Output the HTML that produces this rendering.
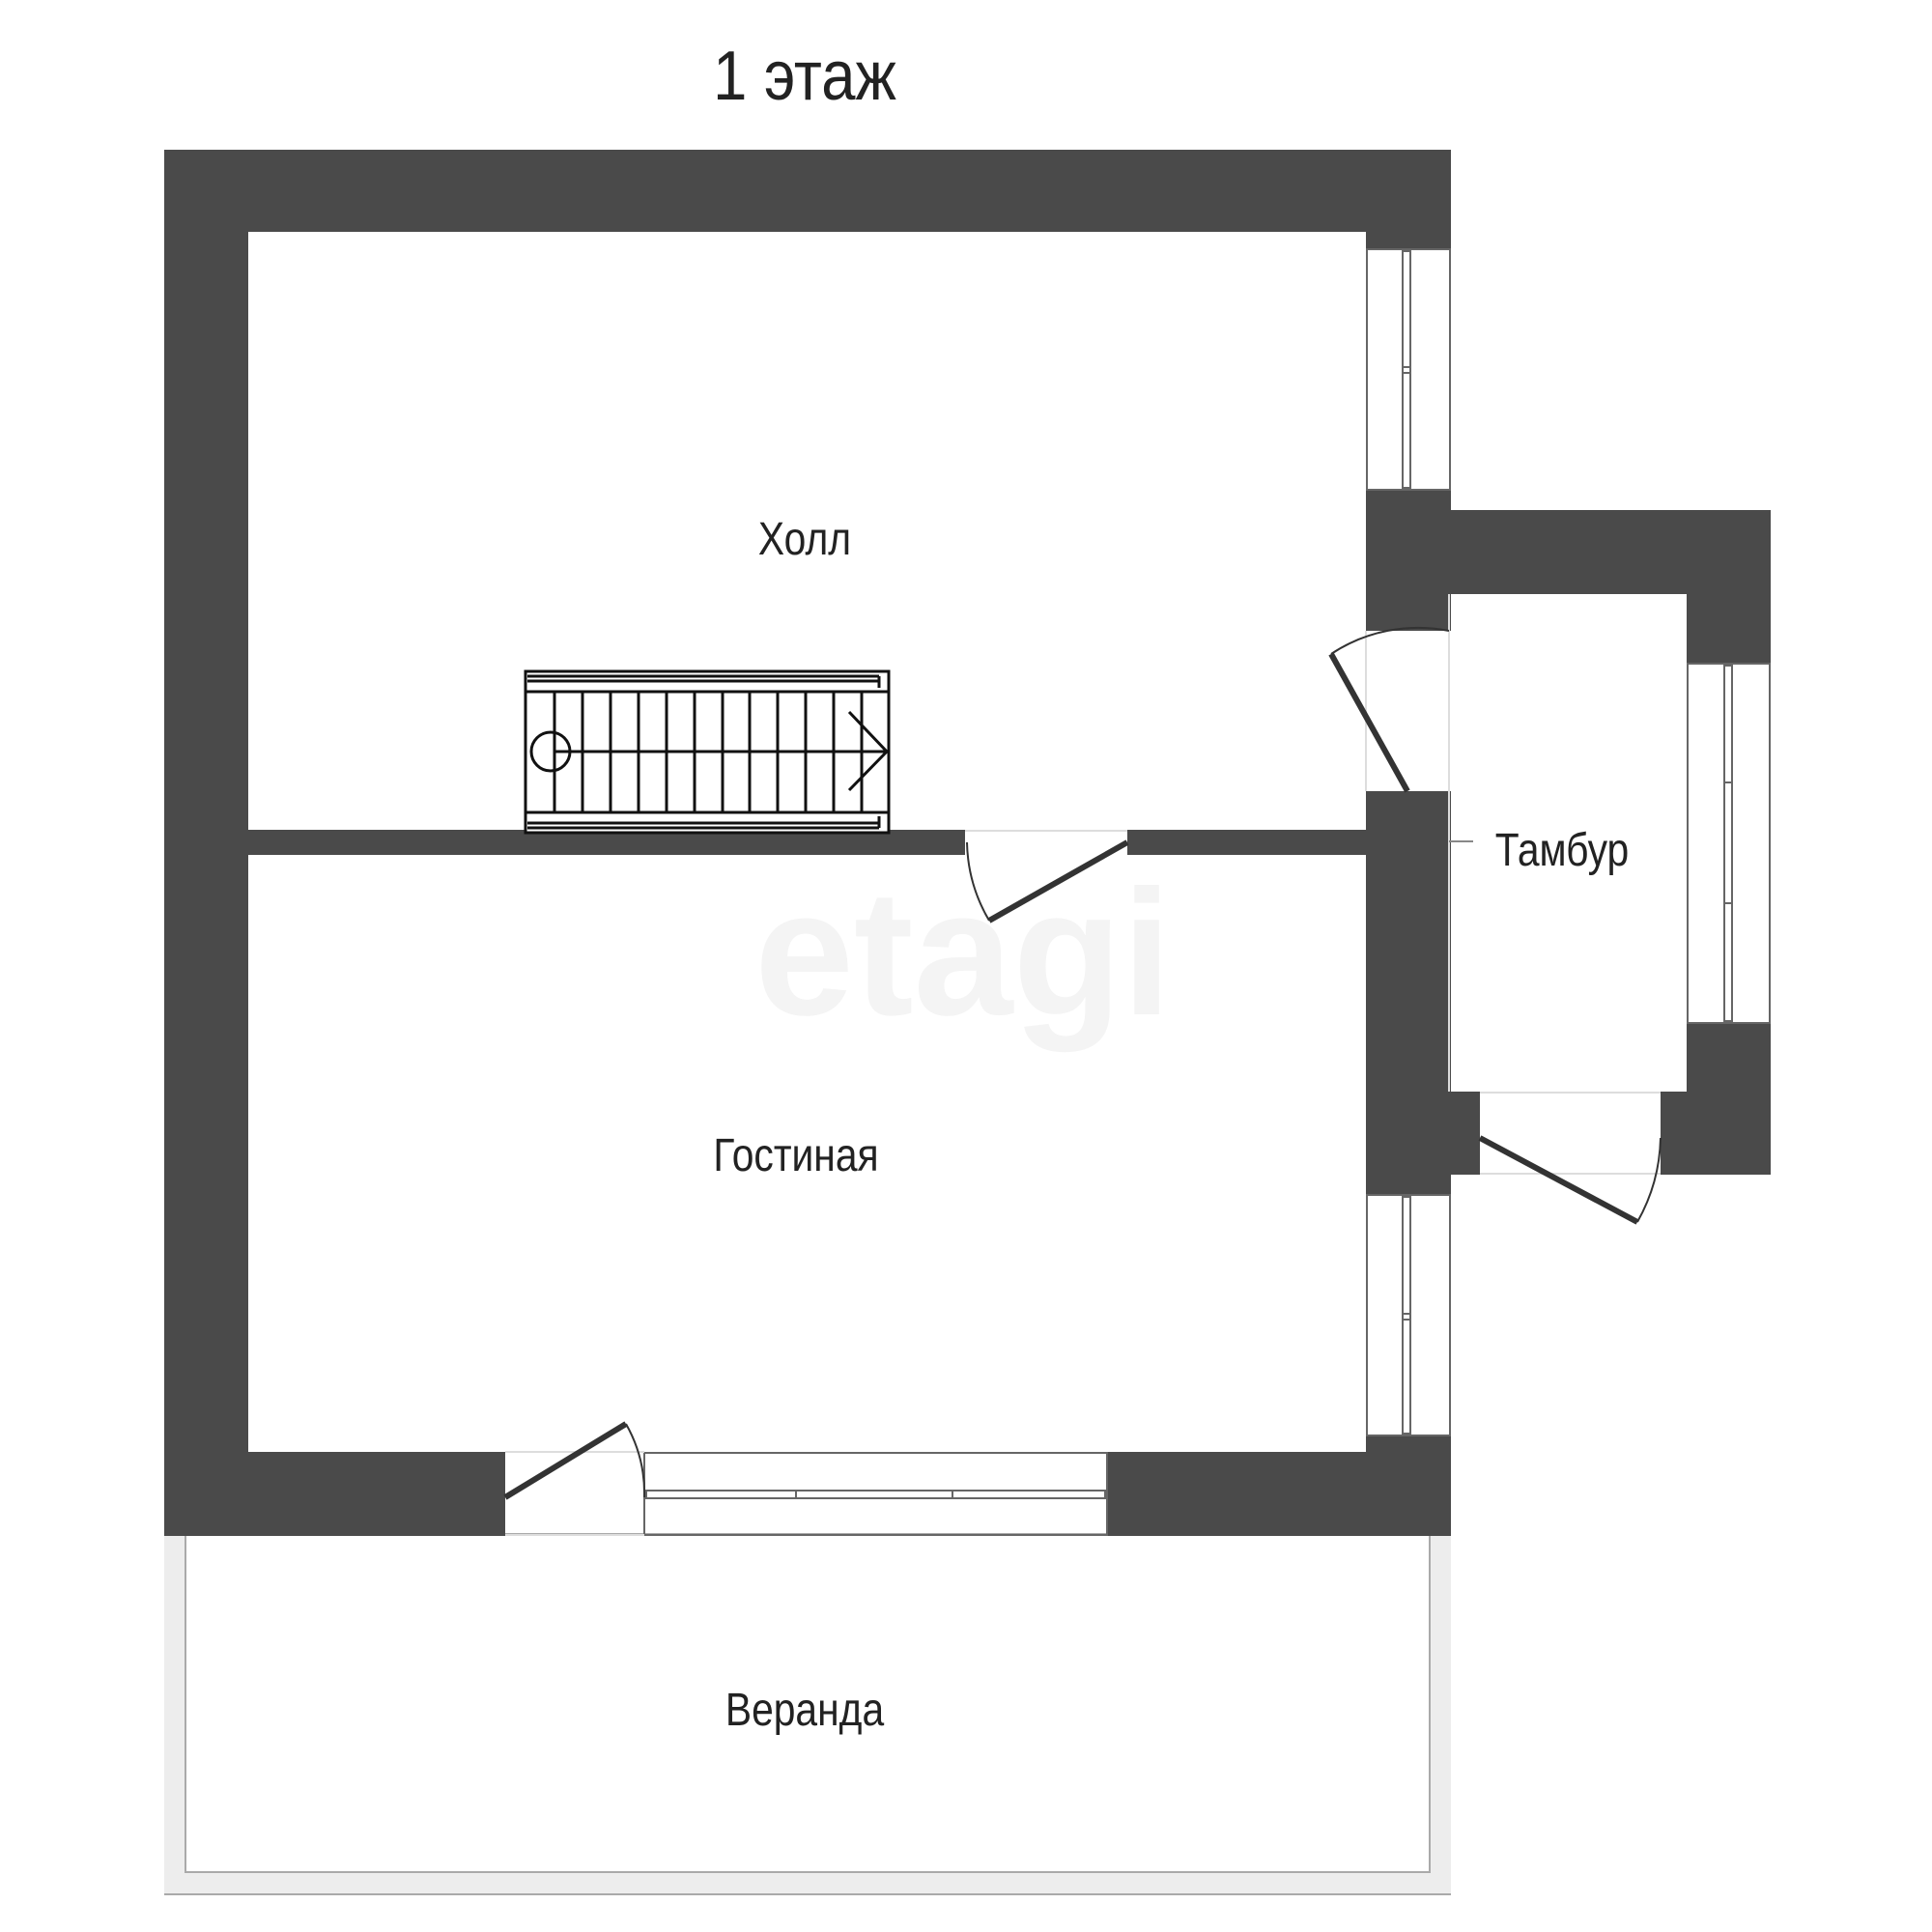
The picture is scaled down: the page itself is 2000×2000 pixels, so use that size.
<!DOCTYPE html>
<html><head><meta charset="utf-8"><style>
html,body{margin:0;padding:0;background:#fff;}
svg{display:block;}
text{font-family:"Liberation Sans",sans-serif;fill:#222;}
</style></head><body>
<svg width="2000" height="2000" viewBox="0 0 2000 2000" xmlns="http://www.w3.org/2000/svg">
<rect width="2000" height="2000" fill="#fff"/>
<!-- watermark -->
<text x="997" y="1050" font-size="185" font-weight="bold" text-anchor="middle" style="fill:#f4f4f4">etagi</text>

<!-- veranda -->
<rect x="170" y="1588" width="1332" height="374" fill="#ededed"/>
<rect x="192" y="1588" width="1288" height="350" fill="#fff" stroke="#aaa" stroke-width="2"/>
<line x1="170" y1="1961" x2="1502" y2="1961" stroke="#aaa" stroke-width="2"/>

<g fill="#4a4a4a">
<rect x="170" y="155" width="1332" height="85"/>
<rect x="170" y="155" width="87" height="1435"/>
<rect x="170" y="1503" width="353" height="87"/>
<rect x="1146" y="1503" width="356" height="87"/>
<rect x="1414" y="155" width="88" height="103"/>
<rect x="1414" y="507" width="88" height="146"/>
<rect x="1414" y="819" width="88" height="418"/>
<rect x="1414" y="1486" width="88" height="104"/>
<rect x="257" y="859" width="742" height="26"/>
<rect x="1167" y="859" width="249" height="26"/>
<rect x="1500" y="528" width="333" height="87"/>
<rect x="1746" y="528" width="87" height="159"/>
<rect x="1746" y="1059" width="87" height="157"/>
<rect x="1719" y="1130" width="114" height="86"/>
<rect x="1414" y="1130" width="118" height="86"/>
</g>

<g fill="none" stroke="#666" stroke-width="2">
<rect x="1415" y="258" width="86" height="249"/>
<rect x="1452" y="260" width="8" height="245"/>
<line x1="1452" y1="380" x2="1460" y2="380"/><line x1="1452" y1="386" x2="1460" y2="386"/>
<rect x="1415" y="1237" width="86" height="249"/>
<rect x="1452" y="1239" width="8" height="245"/>
<line x1="1452" y1="1360" x2="1460" y2="1360"/><line x1="1452" y1="1366" x2="1460" y2="1366"/>
<rect x="1747" y="687" width="85" height="372"/>
<rect x="1785" y="689" width="8" height="368"/>
<line x1="1785" y1="810" x2="1793" y2="810"/><line x1="1785" y1="935" x2="1793" y2="935"/>
<rect x="667" y="1504" width="479" height="85"/>
<rect x="669" y="1543" width="475" height="8"/>
<line x1="824" y1="1543" x2="824" y2="1551"/><line x1="986" y1="1543" x2="986" y2="1551"/>
</g>
<g stroke="#ddd" stroke-width="2">
<line x1="1414" y1="653" x2="1414" y2="819"/><line x1="1500" y1="653" x2="1500" y2="819"/>
<line x1="999" y1="860" x2="1167" y2="860"/>
<line x1="523" y1="1503" x2="667" y2="1503"/><line x1="523" y1="1589" x2="667" y2="1589"/>
<line x1="1532" y1="1131" x2="1719" y2="1131"/><line x1="1532" y1="1215" x2="1719" y2="1215"/>
<line x1="1500" y1="615" x2="1500" y2="1130"/>
<line x1="1500" y1="871" x2="1525" y2="871" stroke="#888"/>
</g>

<g fill="none" stroke="#333">
<line x1="1457" y1="819" x2="1378" y2="677" stroke-width="6"/>
<path d="M1378 677 A163 163 0 0 1 1500 653" stroke-width="2"/>
<line x1="1167" y1="872" x2="1024" y2="953" stroke-width="6"/>
<path d="M1024 953 A166 166 0 0 1 1001 872" stroke-width="2"/>
<line x1="523" y1="1550" x2="648" y2="1474" stroke-width="6"/>
<path d="M648 1474 A146 146 0 0 1 667 1550" stroke-width="2"/>
<line x1="1532" y1="1178" x2="1695" y2="1265" stroke-width="6"/>
<path d="M1695 1265 A185 185 0 0 0 1719 1178" stroke-width="2"/>
</g>

<g fill="none" stroke="#111" stroke-width="3">
<rect x="544" y="695" width="376" height="167" fill="#fff"/>
<line x1="546" y1="700" x2="910" y2="700"/><line x1="546" y1="705" x2="910" y2="705"/>
<line x1="910" y1="700" x2="910" y2="712"/>
<line x1="546" y1="852" x2="910" y2="852"/><line x1="546" y1="857" x2="910" y2="857"/>
<line x1="910" y1="845" x2="910" y2="857"/>
<line x1="544" y1="716" x2="920" y2="716"/>
<line x1="544" y1="841" x2="920" y2="841"/>
<line x1="574" y1="716" x2="574" y2="841"/><line x1="603" y1="716" x2="603" y2="841"/>
<line x1="632" y1="716" x2="632" y2="841"/><line x1="661" y1="716" x2="661" y2="841"/>
<line x1="690" y1="716" x2="690" y2="841"/><line x1="719" y1="716" x2="719" y2="841"/>
<line x1="748" y1="716" x2="748" y2="841"/><line x1="776" y1="716" x2="776" y2="841"/>
<line x1="805" y1="716" x2="805" y2="841"/><line x1="834" y1="716" x2="834" y2="841"/>
<line x1="863" y1="716" x2="863" y2="841"/><line x1="892" y1="716" x2="892" y2="841"/>
<line x1="574" y1="778" x2="918" y2="778"/>
<circle cx="570" cy="778" r="20"/>
<polyline points="879,737 918,778 879,818"/>
</g>

<text x="833" y="103" font-size="72" text-anchor="middle" transform="translate(833 0) scale(0.88 1) translate(-833 0)">1 этаж</text>
<text x="833" y="574" font-size="48" text-anchor="middle" transform="translate(833 0) scale(0.85 1) translate(-833 0)">Холл</text>
<text x="1617" y="896" font-size="48" text-anchor="middle" transform="translate(1617 0) scale(0.85 1) translate(-1617 0)">Тамбур</text>
<text x="824" y="1212" font-size="48" text-anchor="middle" transform="translate(824 0) scale(0.85 1) translate(-824 0)">Гостиная</text>
<text x="833" y="1786" font-size="48" text-anchor="middle" transform="translate(833 0) scale(0.85 1) translate(-833 0)">Веранда</text>
</svg>
</body></html>
